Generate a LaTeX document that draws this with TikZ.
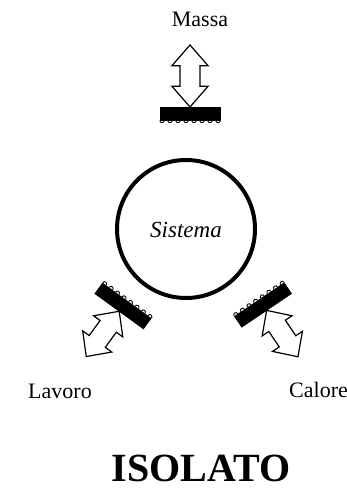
\documentclass[tikz,border=0pt]{standalone}
\usepackage{fontspec}
\setmainfont{Liberation Serif}
\tikzset{
  x=1pt, y=1pt,
  wallbar/.style={fill=black, draw=black, line width=0.6pt},
  hatchmark/.style={draw=black, line width=0.9pt},
  outarrow/.style={draw=black, fill=white, line width=1.2pt, line join=miter},
  lbl/.style={font=\fontsize{22}{24}\selectfont, inner sep=0pt},
}
% #1 = position, #2 = rotation, #3 = arrow length
\newcommand\wallarrow[3]{%
  \begin{scope}[shift={#1}, rotate=#2]
    \fill[wallbar] (-30,-6.5) rectangle (30,6.5);
    \foreach \k in {-28,-20,...,28}
      \draw[hatchmark] (\k-2.2,-7) arc[start angle=180, end angle=360, radius=2.2];
    \pgfmathsetmacro\hl{#3/3}
    \pgfmathsetmacro\hm{#3-#3/3}
    \draw[outarrow] (0,6.5) -- (18,6.5+\hl) -- (10,6.5+\hl) -- (10,6.5+\hm)
      -- (18,6.5+\hm) -- (0,6.5+#3) -- (-18,6.5+\hm) -- (-10,6.5+\hm)
      -- (-10,6.5+\hl) -- (-18,6.5+\hl) -- cycle;
  \end{scope}}
\begin{document}
\begin{tikzpicture}
\clip (0,0) rectangle (347,489);
\fill[white] (0,0) rectangle (347,489);
% system
\node[circle, draw=black, line width=4pt, minimum size=138pt, inner sep=0pt]
  (sys) at (186,260) {};
\node[lbl, font=\fontsize{23}{25}\selectfont\itshape] (sistema) at (186,259) {Sistema};
% walls with arrows
\wallarrow{(190,375.5)}{0}{62}
\wallarrow{(123,183)}{144}{56}
\wallarrow{(263,184)}{-146}{56}
% labels
\node[lbl] (massa) at (200,470) {Massa};
\node[lbl] (lavoro) at (60,98) {Lavoro};
\node[lbl, anchor=west] (calore) at (289,99) {Calore};
\node[inner sep=0pt, font=\fontsize{40}{44}\selectfont\bfseries] (title) at (201,21) {ISOLATO};
\end{tikzpicture}
\end{document}
